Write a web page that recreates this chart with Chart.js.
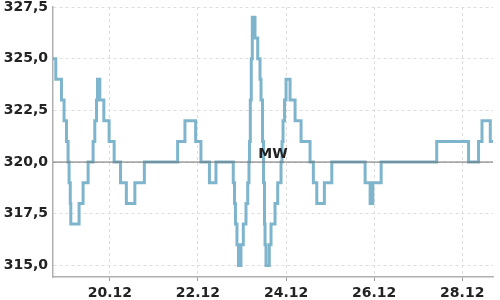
<!DOCTYPE html>
<html>
<head>
<meta charset="utf-8">
<script src="https://cdn.jsdelivr.net/npm/chart.js@4/dist/chart.umd.min.js"></script>
<style>
  html, body { margin: 0; padding: 0; background: #fff; }
  #wrap { width: 500px; height: 300px; }
</style>
</head>
<body>
<div id="wrap"><canvas id="mwChart"></canvas></div>
<script>
// time in days of December (20 = 20.12 00:00), value at which each step starts
const STEP_DAYS = [18.71, 18.773, 18.902, 18.961, 19.016, 19.052, 19.075, 19.102, 19.114, 19.302,
    19.393, 19.507, 19.62, 19.659, 19.698, 19.72, 19.773, 19.864, 19.984, 20.098,
    20.243, 20.375, 20.568, 20.784, 21.539, 21.705, 21.948, 22.068, 22.261, 22.409,
    22.802, 22.83, 22.852, 22.886, 22.92, 22.977, 23.03, 23.091, 23.13, 23.159,
    23.17, 23.189, 23.211, 23.234, 23.295, 23.357, 23.409, 23.432, 23.466, 23.489,
    23.511, 23.523, 23.545, 23.62, 23.659, 23.75, 23.811, 23.886, 23.909, 23.932,
    23.966, 24.0, 24.091, 24.205, 24.341, 24.545, 24.62, 24.698, 24.87, 25.039,
    25.795, 25.909, 25.97, 26.159, 27.42, 28.143, 28.37, 28.448, 28.636, 28.698];
const STEP_VALUES = [325, 324, 323, 322, 321, 320, 319, 318, 317, 318,
    319, 320, 321, 322, 323, 324, 323, 322, 321, 320,
    319, 318, 319, 320, 321, 322, 321, 320, 319, 320,
    319, 318, 317, 316, 315, 316, 317, 318, 319, 320,
    321, 323, 325, 327, 326, 325, 324, 323, 321, 319,
    317, 316, 315, 316, 317, 318, 319, 320, 321, 322,
    323, 324, 323, 322, 321, 320, 319, 318, 319, 320,
    319, 318, 319, 320, 321, 320, 321, 322, 321, 321];
const MW_VALUE = 320;
const MW_LABEL = 'MW';
const X_TICKS = [20, 22, 24, 26, 28];
const Y_TICKS = [315, 317.5, 320, 322.5, 325, 327.5];

const FONT = { family: 'DejaVu Sans', size: 14, weight: 'bold', lineHeight: 1 };

const mwPlugin = {
    id: 'mwLine',
    afterDatasetsDraw(chart) {
        const { ctx, chartArea, scales } = chart;
        const py = scales.y.getPixelForValue(MW_VALUE);
        ctx.save();
        ctx.strokeStyle = '#6e6e6e';
        ctx.lineWidth = 1;
        ctx.beginPath();
        ctx.moveTo(chartArea.left, py);
        ctx.lineTo(chartArea.right, py);
        ctx.stroke();
        ctx.fillStyle = '#222';
        ctx.font = 'bold 14px "DejaVu Sans"';
        ctx.textAlign = 'center';
        ctx.textBaseline = 'bottom';
        ctx.fillText(MW_LABEL, (chartArea.left + chartArea.right) / 2, py - 1);
        ctx.restore();
    }
};

const ctx = document.getElementById('mwChart').getContext('2d');
new Chart(ctx, {
    type: 'line',
    data: {
        datasets: [{
            data: STEP_DAYS.map((d, i) => ({ x: d, y: STEP_VALUES[i] })),
            borderColor: '#7fb5cc',
            borderWidth: 3,
            stepped: 'before',
            pointRadius: 0,
            fill: false
        }]
    },
    options: {
        responsive: true,
        maintainAspectRatio: false,
        animation: false,
        layout: { padding: { top: 7, right: 7, left: 0, bottom: 0 } },
        plugins: {
            legend: { display: false },
            tooltip: { enabled: false }
        },
        scales: {
            x: {
                type: 'linear',
                min: 18.71,
                max: 28.698,
                afterBuildTicks: (scale) => { scale.ticks = X_TICKS.map(v => ({ value: v })); },
                afterFit: (scale) => { scale.height = 23; },
                grid: { color: '#dddddd', tickLength: 4, tickColor: '#999' },
                border: { color: '#b0b0b0', width: 1.5, dash: [3, 3] },
                ticks: {
                    color: '#222',
                    font: FONT,
                    padding: 5,
                    maxRotation: 0,
                    callback: (v) => v + '.12'
                }
            },
            y: {
                min: 314.44,
                max: 327.5,
                afterBuildTicks: (scale) => { scale.ticks = Y_TICKS.map(v => ({ value: v })); },
                afterFit: (scale) => { scale.width = 53; scale.paddingTop = 0; },
                grid: { color: '#dddddd', tickLength: 0 },
                border: { color: '#b0b0b0', width: 1.5, dash: [3, 3] },
                ticks: {
                    color: '#222',
                    font: FONT,
                    padding: 5,
                    callback: (v) => v.toFixed(1).replace('.', ',')
                }
            }
        }
    },
    plugins: [mwPlugin]
});
</script>
</body>
</html>
